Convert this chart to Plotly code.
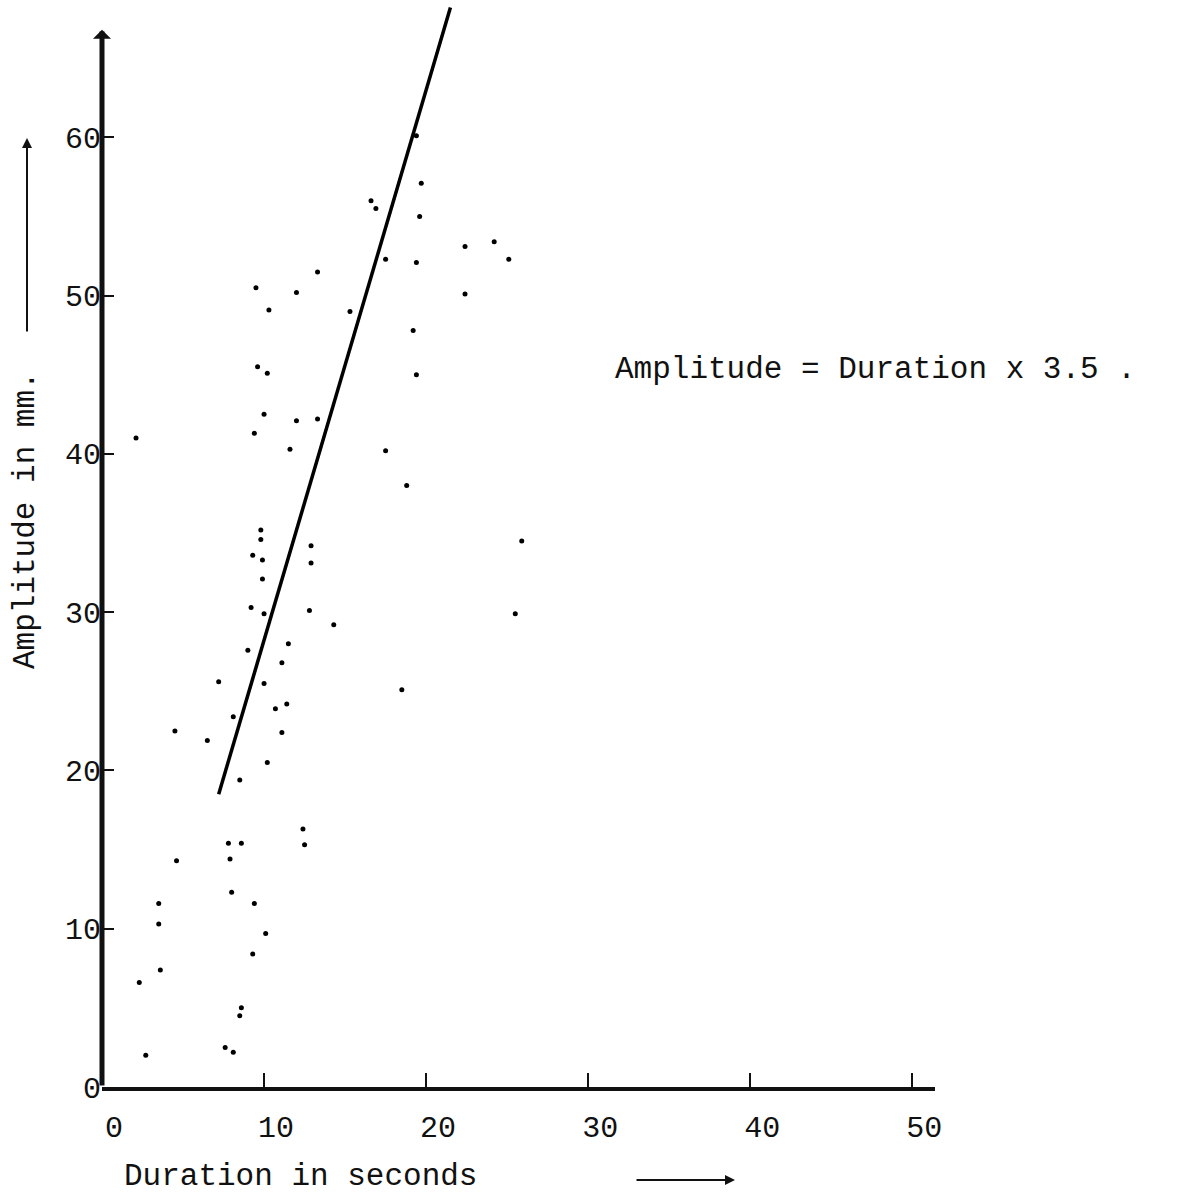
import plotly.graph_objects as go

duration = [9.5, 12.0, 10.3, 15.3, 9.6, 10.2, 10.0, 12.0, 9.4, 11.6, 2.1, 9.8, 9.8, 9.3, 9.9,
            12.9, 12.9, 9.9, 9.2, 10.0, 12.8, 14.3, 11.5, 9.0, 11.1, 7.2, 10.0, 10.7, 11.4, 8.1,
            4.5, 6.5, 11.1, 10.2, 8.5, 12.4, 12.5, 7.8, 8.6, 7.9, 4.6, 8.0, 9.4, 3.5, 3.5,
            10.1, 9.3, 3.6, 2.3, 8.6, 8.5, 7.6, 8.1, 2.7, 13.3, 17.5, 19.4, 25.1, 22.4, 24.2,
            22.4, 16.6, 16.9, 19.7, 19.6, 19.4, 19.2, 19.4, 17.5, 18.8, 25.9, 25.5, 18.5, 13.3]
amplitude = [50.5, 50.2, 49.1, 49.0, 45.5, 45.1, 42.5, 42.1, 41.3, 40.3, 41.0, 35.2, 34.6, 33.6, 33.3,
             34.2, 33.1, 32.1, 30.3, 29.9, 30.1, 29.2, 28.0, 27.6, 26.8, 25.6, 25.5, 23.9, 24.2, 23.4,
             22.5, 21.9, 22.4, 20.5, 19.4, 16.3, 15.3, 15.4, 15.4, 14.4, 14.3, 12.3, 11.6, 11.6, 10.3,
             9.7, 8.4, 7.4, 6.6, 5.0, 4.5, 2.5, 2.2, 2.0, 42.2, 52.3, 52.1, 52.3, 53.1, 53.4,
             50.1, 56.0, 55.5, 57.1, 55.0, 60.1, 47.8, 45.0, 40.2, 38.0, 34.5, 29.9, 25.1, 51.5]

# Fitted line end points
fit_duration = [7.2, 21.5]
fit_amplitude = [18.5, 68.2]

x_ticks = [0, 10, 20, 30, 40, 50]
y_ticks = [0, 10, 20, 30, 40, 50, 60]

FONT = "Liberation Mono"

fig = go.Figure()
fig.add_trace(go.Scatter(x=fit_duration, y=fit_amplitude, mode="lines",
                         line=dict(color="black", width=3.5), hoverinfo="skip"))
fig.add_trace(go.Scatter(x=duration, y=amplitude, mode="markers",
                         marker=dict(color="black", size=5)))

W, H = 1180, 1199
L, R, T, B = 102, 245, 6, 112
pw, ph = W - L - R, H - T - B


def px(x):
    return (x - L) / pw


def py(y):
    return (H - B - y) / ph


fig.update_layout(
    width=W, height=H,
    margin=dict(l=L, r=R, t=T, b=B),
    plot_bgcolor="white", paper_bgcolor="white",
    showlegend=False,
    font=dict(family=FONT, size=30, color="#111"),
    xaxis=dict(range=[0, 51.4], tickvals=x_ticks, ticktext=[str(v) for v in x_ticks],
               showgrid=False, zeroline=False, showline=True, linewidth=4, linecolor="#111",
               ticks="inside", ticklen=14, tickwidth=2, tickcolor="#111",
               ticklabelshift=12, ticklabelstandoff=10,
               tickfont=dict(family=FONT, size=30, color="#111")),
    yaxis=dict(range=[0, 68.3], tickvals=y_ticks, ticktext=[str(v) for v in y_ticks],
               showgrid=False, zeroline=False, showline=False,
               ticks="inside", ticklen=12, tickwidth=2, tickcolor="#111",
               ticklabelstandoff=0,
               tickfont=dict(family=FONT, size=30, color="#111")),
)

annotations = [
    # y axis line with arrow head
    dict(x=0, y=66.8, ax=0, ay=0, xref="x", yref="y", axref="x", ayref="y",
         text="", showarrow=True, arrowhead=1, arrowsize=0.6, arrowwidth=5, arrowcolor="#111"),
    # axis titles
    dict(x=px(122), y=py(1176), xref="paper", yref="paper", xanchor="left", yanchor="middle",
         text="Duration in seconds", showarrow=False, font=dict(family=FONT, size=31, color="#111")),
    dict(x=px(735), y=py(1180), xref="paper", yref="paper", text="", showarrow=True,
         ax=-100, ay=0, arrowhead=2, arrowsize=1, arrowwidth=2, arrowcolor="#111"),
    dict(x=px(25), y=py(520), xref="paper", yref="paper", xanchor="center", yanchor="middle",
         text="Amplitude in mm.", textangle=-90, showarrow=False,
         font=dict(family=FONT, size=31, color="#111")),
    dict(x=px(27), y=py(138), xref="paper", yref="paper", text="", showarrow=True,
         ax=0, ay=195, arrowhead=2, arrowsize=1, arrowwidth=2, arrowcolor="#111"),
    # equation
    dict(x=px(613), y=py(370), xref="paper", yref="paper", xanchor="left", yanchor="middle",
         text="Amplitude = Duration x 3.5 .", showarrow=False,
         font=dict(family=FONT, size=31, color="#111")),
]
fig.update_layout(annotations=annotations)

fig.write_html("out.html", config={"displayModeBar": False},
               post_script="document.body.style.margin='0';document.body.style.padding='0';")
